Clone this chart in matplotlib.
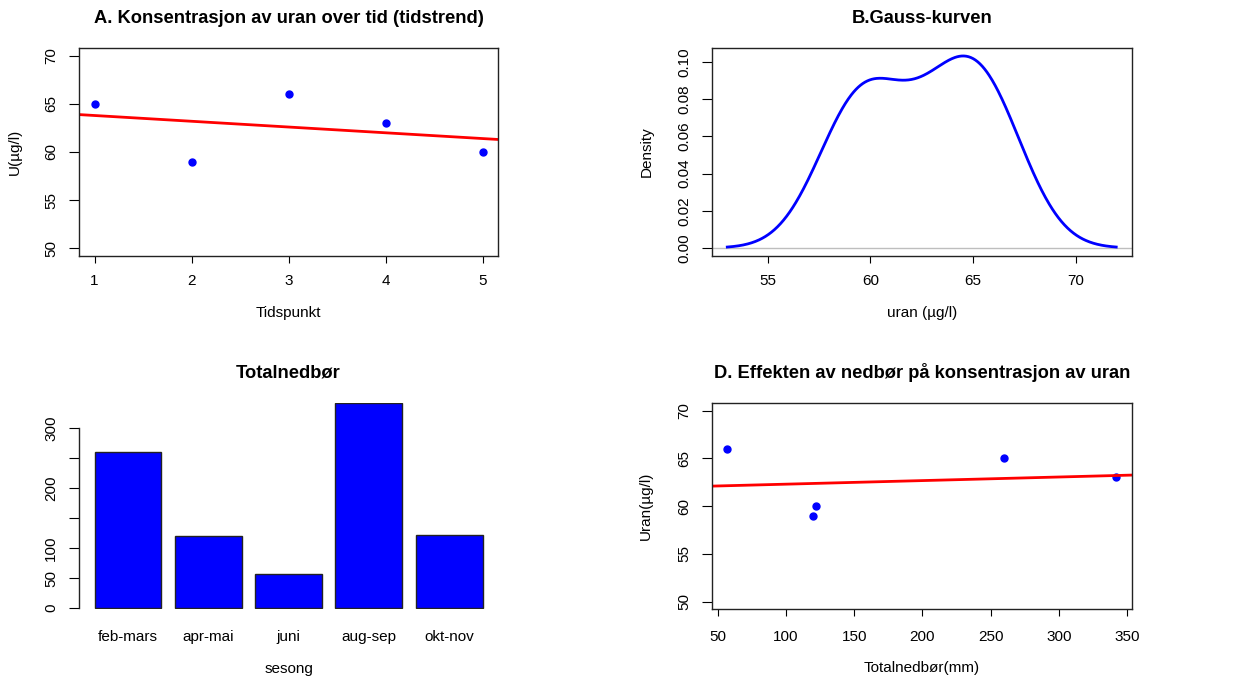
import numpy as np
import matplotlib
matplotlib.use("Agg")
import matplotlib.pyplot as plt

plt.rcParams['font.family'] = ['Liberation Sans', 'DejaVu Sans']

# data
tidspunkt = [1, 2, 3, 4, 5]
uran = [65, 59, 66, 63, 60]
sesong = ['feb-mars', 'apr-mai', 'juni', 'aug-sep', 'okt-nov']
nedbor = [260, 120, 57, 342, 122]

LAB = 11
TIT = 13.2

fig = plt.figure(figsize=(12.38, 6.79), dpi=100)


def style(ax):
    ax.tick_params(axis='x', length=5, pad=8, labelsize=LAB, colors='black')
    ax.tick_params(axis='y', length=7, pad=8, labelsize=LAB, colors='black')
    for lab in ax.get_yticklabels():
        lab.set_rotation(90)
        lab.set_va('center')
    for s in ax.spines.values():
        s.set_color('#222222')
        s.set_linewidth(1)


# A. tidstrend
axA = fig.add_axes([0.0638, 0.6234, 0.3385, 0.3055])
axA.plot(tidspunkt, uran, 'o', color='blue', markersize=5)
k, m = np.polyfit(tidspunkt, uran, 1)
axA.axline((0, m), slope=k, color='red', lw=2)
axA.set_xlim(0.84, 5.16)
axA.set_ylim(49.2, 70.8)
axA.set_xticks([1, 2, 3, 4, 5])
axA.set_yticks([50, 55, 60, 65, 70])
style(axA)
axA.set_xlabel('Tidspunkt', fontsize=LAB, labelpad=13)
axA.set_ylabel('U(µg/l)', fontsize=LAB, labelpad=16)
axA.set_title('A. Konsentrasjon av uran over tid (tidstrend)', fontsize=TIT,
              fontweight='bold', pad=18)

# B. tetthet (gauss-kjerne, bw.nrd0 som i R)
u = np.array(uran, dtype=float)
iqr = np.percentile(u, 75) - np.percentile(u, 25)
bw = 0.9 * min(u.std(ddof=1), iqr / 1.34) * len(u) ** -0.2
xs = np.linspace(u.min() - 3 * bw, u.max() + 3 * bw, 512)
dens = np.exp(-0.5 * ((xs[:, None] - u[None, :]) / bw) ** 2).sum(axis=1) / (len(u) * bw * np.sqrt(2 * np.pi))

axB = fig.add_axes([0.5749, 0.6234, 0.3393, 0.3055])
axB.axhline(0, color='#bebebe', lw=1)
axB.plot(xs, dens, color='blue', lw=2)
rx = xs.max() - xs.min()
axB.set_xlim(xs.min() - 0.04 * rx, xs.max() + 0.04 * rx)
axB.set_ylim(-0.04 * dens.max(), 1.04 * dens.max())
axB.set_xticks([55, 60, 65, 70])
axB.set_yticks([0, 0.02, 0.04, 0.06, 0.08, 0.10])
axB.set_yticklabels(['0.00', '0.02', '0.04', '0.06', '0.08', '0.10'])
style(axB)
axB.set_xlabel('uran (µg/l)', fontsize=LAB, labelpad=13)
axB.set_ylabel('Density', fontsize=LAB, labelpad=17)
axB.set_title('B.Gauss-kurven', fontsize=TIT, fontweight='bold', pad=18)

# C. totalnedbør
axC = fig.add_axes([0.0638, 0.1027, 0.3385, 0.3038])
xpos = np.arange(len(sesong)) * 1.2 + 0.7
axC.bar(xpos, nedbor, width=1, color='blue', edgecolor='#222222', lw=1)
axC.set_xlim(-0.032, 6.232)
axC.set_ylim(-2, max(nedbor))
axC.set_xticks(xpos)
axC.set_xticklabels(sesong)
axC.set_yticks([0, 50, 100, 150, 200, 250, 300])
axC.set_yticklabels(['0', '50', '100', '', '200', '', '300'])
style(axC)
axC.tick_params(axis='x', length=0, pad=15)
for s in ['top', 'right', 'bottom']:
    axC.spines[s].set_visible(False)
axC.spines['left'].set_bounds(0, 300)
axC.set_xlabel('sesong', fontsize=LAB, labelpad=13)
axC.set_title('Totalnedbør', fontsize=TIT, fontweight='bold', pad=18)

# D. nedbør vs uran
axD = fig.add_axes([0.5749, 0.1027, 0.3393, 0.3038])
axD.plot(nedbor, uran, 'o', color='blue', markersize=5)
k2, m2 = np.polyfit(nedbor, uran, 1)
axD.axline((0, m2), slope=k2, color='red', lw=2)
rn = max(nedbor) - min(nedbor)
axD.set_xlim(min(nedbor) - 0.04 * rn, max(nedbor) + 0.04 * rn)
axD.set_ylim(49.2, 70.8)
axD.set_xticks([50, 100, 150, 200, 250, 300, 350])
axD.set_yticks([50, 55, 60, 65, 70])
style(axD)
axD.tick_params(axis='x', pad=10)
axD.set_xlabel('Totalnedbør(mm)', fontsize=LAB, labelpad=12)
axD.set_ylabel('Uran(µg/l)', fontsize=LAB, labelpad=17)
axD.set_title('D. Effekten av nedbør på konsentrasjon av uran', fontsize=TIT,
              fontweight='bold', pad=18)

fig.savefig('out.png', dpi=100)
